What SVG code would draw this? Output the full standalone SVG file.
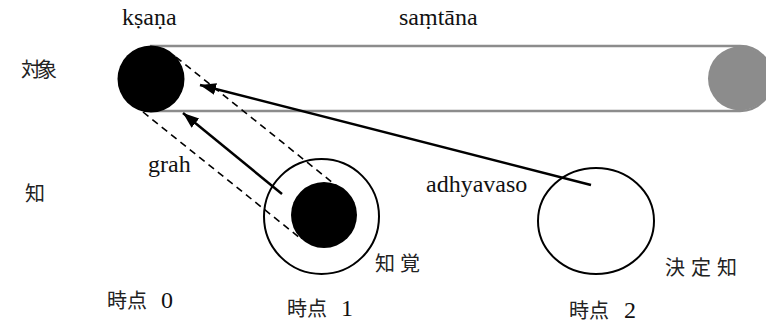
<svg xmlns="http://www.w3.org/2000/svg" width="766" height="323" viewBox="0 0 766 323">
<style>
.lat{font-family:'Liberation Serif','DejaVu Serif',serif;font-size:24px;fill:#111}
.cjk{font-family:'Noto Sans CJK JP','Noto Sans CJK SC',sans-serif;font-size:20px;fill:#222}
.dash{stroke:#000;stroke-width:1.6;stroke-dasharray:7,5;fill:none}
.arr{stroke:#000;stroke-width:2.5;fill:none;marker-end:url(#ah)}
.ring{fill:none;stroke:#000;stroke-width:2}
</style>
<defs>
<marker id="ah" markerUnits="userSpaceOnUse" markerWidth="18" markerHeight="14" refX="16" refY="6" orient="auto">
<path d="M0,0 L16,6 L0,12 Z" fill="#000"/>
</marker>
</defs>
<g id="band">
<path d="M150,46 H740 A32.5,32.5 0 0 1 740,111 H150" fill="none" stroke="#8c8c8c" stroke-width="2.4"/>
<circle cx="740" cy="78.5" r="32" fill="#8c8c8c"/>
</g>
<g id="connectors">
<line class="dash" x1="176" y1="57" x2="338" y2="187"/>
<line class="dash" x1="143" y1="112" x2="300" y2="238"/>
<line class="arr" x1="282" y1="194" x2="183" y2="113"/>
<line class="arr" x1="591" y1="185" x2="200" y2="85"/>
</g>
<g id="ksana-node">
<circle cx="151" cy="79" r="33.5" fill="#000"/>
</g>
<g id="perception-node">
<circle class="ring" cx="321.5" cy="216.5" r="57.5"/>
<circle cx="324" cy="215" r="33" fill="#000"/>
</g>
<g id="decision-node">
<ellipse class="ring" cx="596" cy="221" rx="58" ry="53"/>
</g>
<g id="labels">
<text class="lat" font-family="Liberation Serif, DejaVu Serif, serif" x="122" y="25">kṣaṇa</text>
<text class="lat" font-family="Liberation Serif, DejaVu Serif, serif" x="399" y="25">saṃtāna</text>
<text class="lat" font-family="Liberation Serif, DejaVu Serif, serif" x="148" y="172">grah</text>
<text class="lat" font-family="Liberation Serif, DejaVu Serif, serif" x="426" y="192">adhyavaso</text>
<text class="cjk" x="21" y="77" textLength="36">対象</text>
<text class="cjk" x="25" y="201">知</text>
<text class="cjk" x="375" y="271" textLength="45">知覚</text>
<text class="cjk" x="665" y="275" textLength="72">決定知</text>
<text class="cjk" x="107" y="308">時点<tspan class="lat" font-family="Liberation Serif, DejaVu Serif, serif" x="161">0</tspan></text>
<text class="cjk" x="287" y="316">時点<tspan class="lat" font-family="Liberation Serif, DejaVu Serif, serif" x="341">1</tspan></text>
<text class="cjk" x="569" y="318">時点<tspan class="lat" font-family="Liberation Serif, DejaVu Serif, serif" x="624">2</tspan></text>
</g>
</svg>
